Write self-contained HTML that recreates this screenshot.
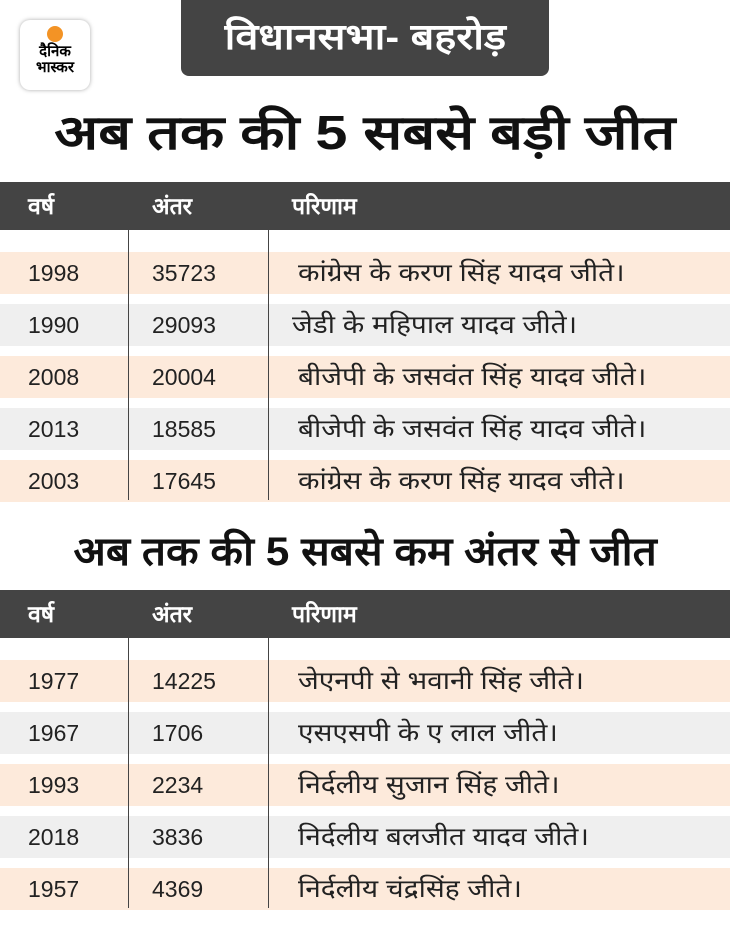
<!DOCTYPE html>
<html><head><meta charset="utf-8"><style>
body{margin:0;width:730px;height:937px;background:#fff;position:relative;overflow:hidden;font-family:"Liberation Sans","Noto Sans CJK SC",sans-serif}
.a{position:absolute}
.hdr{left:181px;top:0;width:368px;height:76px;background:#444;border-radius:0 0 8px 8px;color:#fff;font-size:36px;font-weight:bold;text-align:center;line-height:74px}
.logo{left:20px;top:20px;width:70px;height:70px;border-radius:10px;background:#fff;box-shadow:0 0 4px #aaa;text-align:center;font-size:15px;font-weight:bold;line-height:16px}
.dot{width:16px;height:16px;border-radius:50%;background:#f39325;margin:6px auto 2px}
.title{left:0;width:730px;text-align:center;font-weight:bold;font-size:48px;color:#111}
.th{left:0;width:730px;height:48px;background:#444;color:#fff;font-weight:bold;font-size:23px}
.row{left:0;width:730px;height:42px;font-size:23px;color:#222;line-height:42px}
.row span,.th span{position:absolute}
.r{font-size:25px;transform:scaleX(1.12);transform-origin:left center}
.vl{width:1px;background:#444}
</style></head><body>
<div class="a logo"><div class="dot"></div>दैनिक<br>भास्कर</div>
<div class="a hdr"><span style="display:inline-block;transform:scaleX(1.15)">विधानसभा- बहरोड़</span></div>
<div class="a title" style="top:104px;line-height:60px"><span style="display:inline-block;transform:scaleX(1.2)">अब तक की 5 सबसे बड़ी जीत</span></div>
<div class="a th" style="top:182px;line-height:48px"><span style="left:28px">वर्ष</span><span style="left:152px">अंतर</span><span style="left:292px">परिणाम</span></div>
<div class="a row" style="top:252px;background:#fdeadb"><span style="left:28px">1998</span><span style="left:152px">35723</span><span class="r" style="left:298px">कांग्रेस के करण सिंह यादव जीते।</span></div>
<div class="a row" style="top:304px;background:#efefef"><span style="left:28px">1990</span><span style="left:152px">29093</span><span class="r" style="left:292px">जेडी के महिपाल यादव जीते।</span></div>
<div class="a row" style="top:356px;background:#fdeadb"><span style="left:28px">2008</span><span style="left:152px">20004</span><span class="r" style="left:298px">बीजेपी के जसवंत सिंह यादव जीते।</span></div>
<div class="a row" style="top:408px;background:#efefef"><span style="left:28px">2013</span><span style="left:152px">18585</span><span class="r" style="left:298px">बीजेपी के जसवंत सिंह यादव जीते।</span></div>
<div class="a row" style="top:460px;background:#fdeadb"><span style="left:28px">2003</span><span style="left:152px">17645</span><span class="r" style="left:298px">कांग्रेस के करण सिंह यादव जीते।</span></div>
<div class="a vl" style="left:128px;top:182px;height:318px"></div>
<div class="a vl" style="left:268px;top:182px;height:318px"></div>
<div class="a title" style="top:524px;line-height:56px;font-size:40px"><span style="display:inline-block;transform:scaleX(1.06)">अब तक की 5 सबसे कम अंतर से जीत</span></div>
<div class="a th" style="top:590px;line-height:48px"><span style="left:28px">वर्ष</span><span style="left:152px">अंतर</span><span style="left:292px">परिणाम</span></div>
<div class="a row" style="top:660px;background:#fdeadb"><span style="left:28px">1977</span><span style="left:152px">14225</span><span class="r" style="left:298px">जेएनपी से भवानी सिंह जीते।</span></div>
<div class="a row" style="top:712px;background:#efefef"><span style="left:28px">1967</span><span style="left:152px">1706</span><span class="r" style="left:298px">एसएसपी के ए लाल जीते।</span></div>
<div class="a row" style="top:764px;background:#fdeadb"><span style="left:28px">1993</span><span style="left:152px">2234</span><span class="r" style="left:298px">निर्दलीय सुजान सिंह जीते।</span></div>
<div class="a row" style="top:816px;background:#efefef"><span style="left:28px">2018</span><span style="left:152px">3836</span><span class="r" style="left:298px">निर्दलीय बलजीत यादव जीते।</span></div>
<div class="a row" style="top:868px;background:#fdeadb"><span style="left:28px">1957</span><span style="left:152px">4369</span><span class="r" style="left:298px">निर्दलीय चंद्रसिंह जीते।</span></div>
<div class="a vl" style="left:128px;top:590px;height:318px"></div>
<div class="a vl" style="left:268px;top:590px;height:318px"></div>
</body></html>
